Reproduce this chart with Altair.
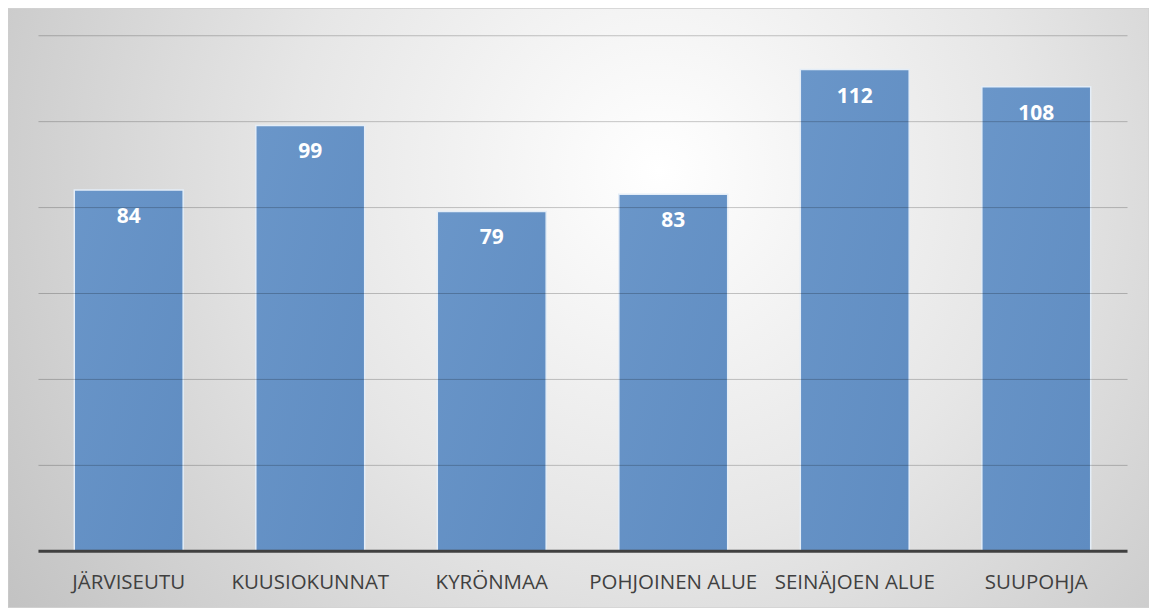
import altair as alt
import pandas as pd

regions = ["JÄRVISEUTU", "KUUSIOKUNNAT", "KYRÖNMAA", "POHJOINEN ALUE", "SEINÄJOEN ALUE", "SUUPOHJA"]
values = [84, 99, 79, 83, 112, 108]

df = pd.DataFrame({"region": regions, "value": values})

W, H = 1090, 516
PL, PT, PR, PB = 30, 27, 22, 57

bg = alt.Chart(pd.DataFrame({"a": [0]})).mark_rect(
    color=alt.Gradient(
        gradient="radial",
        x1=0.57, y1=0.38, r1=0.0,
        x2=0.57, y2=0.38, r2=0.72,
        stops=[alt.GradientStop(color="#ffffff", offset=0.0),
               alt.GradientStop(color="#e6e6e6", offset=0.45),
               alt.GradientStop(color="#bfbfbf", offset=1.0)],
    ),
    stroke="#cfcfcf", strokeWidth=1,
).encode(
    x=alt.value(-PL), x2=alt.value(W + PR),
    y=alt.value(-PT), y2=alt.value(H + PB),
)

xenc = alt.X("region:N", sort=regions, title=None,
             scale=alt.Scale(paddingInner=0.4, paddingOuter=0.2),
             axis=alt.Axis(labelAngle=0, labelFont="Open Sans", labelFontSize=20.5,
                           labelColor="#404040", labelPadding=22, ticks=False,
                           domainColor="#404040", domainWidth=3, grid=False, zindex=2))
yenc = alt.Y("value:Q", title=None,
             scale=alt.Scale(domain=[0, 120], nice=False),
             axis=alt.Axis(values=[20, 40, 60, 80, 100, 120], labels=False, ticks=False,
                           domain=False, grid=True, gridColor="#000000", gridOpacity=0.22,
                           gridWidth=1, zindex=1))

bars = alt.Chart(df).mark_bar(
    color=alt.Gradient(
        gradient="linear", x1=0, y1=0, x2=1, y2=1,
        stops=[alt.GradientStop(color="#6a96c9", offset=0.0),
               alt.GradientStop(color="#5f8cc1", offset=1.0)],
    ),
    stroke="#e4edf7", strokeWidth=1.5,
).encode(x=xenc, y=yenc)

labels = alt.Chart(df).mark_text(
    color="white", font="Open Sans", fontWeight="bold", fontSize=21,
    baseline="middle", dy=27,
).encode(x=alt.X("region:N", sort=regions), y="value:Q", text="value:Q")

chart = alt.layer(bg, bars, labels).properties(
    width=W, height=H,
    padding={"left": PL, "top": PT, "right": PR, "bottom": PB},
    autosize=alt.AutoSizeParams(type="none"),
).configure_view(stroke=None).configure(background="white")

chart.save("out.html", embed_options={"renderer": "svg", "actions": False})
